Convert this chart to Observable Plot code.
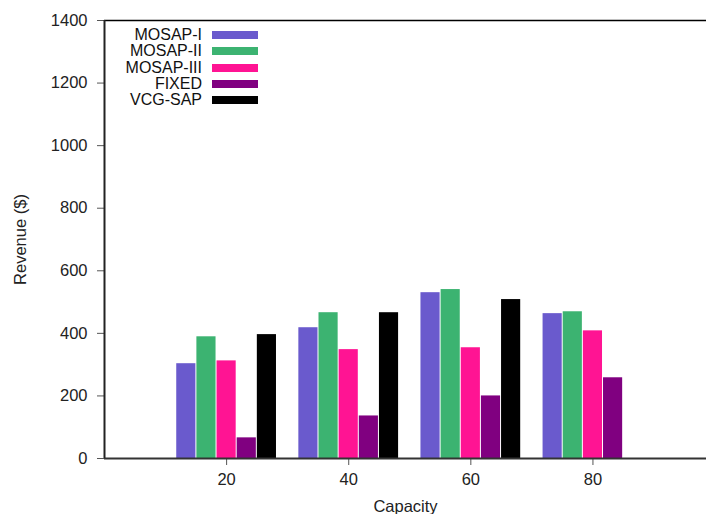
<!DOCTYPE html>
<html>
<head>
<meta charset="utf-8">
<script src="https://cdn.jsdelivr.net/npm/d3@7"></script>
<script src="https://cdn.jsdelivr.net/npm/@observablehq/plot@0.6"></script>
<style>
  html, body { margin: 0; padding: 0; background: #fff; }
  #wrap { position: relative; width: 706px; height: 514px; }
  #legend { position: absolute; left: 100px; top: 27px; font-family: "Liberation Sans", Arial, sans-serif; font-size: 16px; line-height: 16.25px; color: #111; }
  #legend .row { display: flex; align-items: center; justify-content: flex-end; height: 16.25px; width: 158px; }
  #legend .sw { width: 46px; height: 8px; margin-left: 10px; display: inline-block; }
</style>
</head>
<body>
<div id="wrap"><div id="legend"></div></div>
<script>
const capacities = [20, 40, 60, 80];
const seriesNames = ["MOSAP-I", "MOSAP-II", "MOSAP-III", "FIXED", "VCG-SAP"];
const mosapI   = [303, 418, 530, 463];
const mosapII  = [389, 466, 540, 469];
const mosapIII = [312, 348, 354, 408];
const fixed    = [66, 136, 200, 258];
const vcgSap   = [396, 466, 508, null];
const seriesColors = ["#6a5acd", "#3cb371", "#ff1493", "#800080", "#000000"];
const yTicks = [0, 200, 400, 600, 800, 1000, 1200, 1400];

const allSeries = [mosapI, mosapII, mosapIII, fixed, vcgSap];
const barW = 3.3; // bar pitch in capacity units
const rows = [];
allSeries.forEach((vals, i) => {
  vals.forEach((v, j) => {
    if (v == null) return;
    const c = capacities[j];
    rows.push({series: seriesNames[i], cap: c, x1: c + (i - 2.5) * barW, x2: c + (i - 1.5) * barW, value: v});
  });
});

const chart = Plot.plot({
  width: 706,
  height: 514,
  marginTop: 20,
  marginLeft: 104,
  marginRight: 0,
  marginBottom: 56,
  style: {fontFamily: "Liberation Sans, Arial, sans-serif", fontSize: "16.5px", color: "#222", background: "#fff"},
  x: {domain: [0, 98.6]},
  y: {domain: [0, 1400]},
  color: {domain: seriesNames, range: seriesColors},
  marks: [
    Plot.rect(rows, {x1: "x1", x2: "x2", y1: 0, y2: "value", fill: "series", insetLeft: 0.5, insetRight: 0.5}),
    Plot.axisY({ticks: yTicks, tickFormat: d => String(d), tickSize: 7, tickPadding: 10, stroke: "#555", label: "Revenue ($)", labelAnchor: "center", labelArrow: false, labelOffset: 90}),
    Plot.axisX({ticks: capacities, tickFormat: d => String(d), tickSize: 7, tickPadding: 8, stroke: "#555", label: "Capacity", labelAnchor: "center", labelArrow: false, labelOffset: 53}),
    Plot.ruleY([0], {stroke: "#333", strokeWidth: 2}),
    Plot.ruleY([1400], {stroke: "#000", strokeWidth: 1.5}),
    Plot.ruleX([0], {stroke: "#222", strokeWidth: 2})
  ]
});
document.getElementById("wrap").prepend(chart);

const legend = document.getElementById("legend");
seriesNames.forEach((name, i) => {
  const row = document.createElement("div");
  row.className = "row";
  const t = document.createElement("span");
  t.textContent = name;
  const sw = document.createElement("span");
  sw.className = "sw";
  sw.style.background = seriesColors[i];
  row.appendChild(t);
  row.appendChild(sw);
  legend.appendChild(row);
});
</script>
</body>
</html>
